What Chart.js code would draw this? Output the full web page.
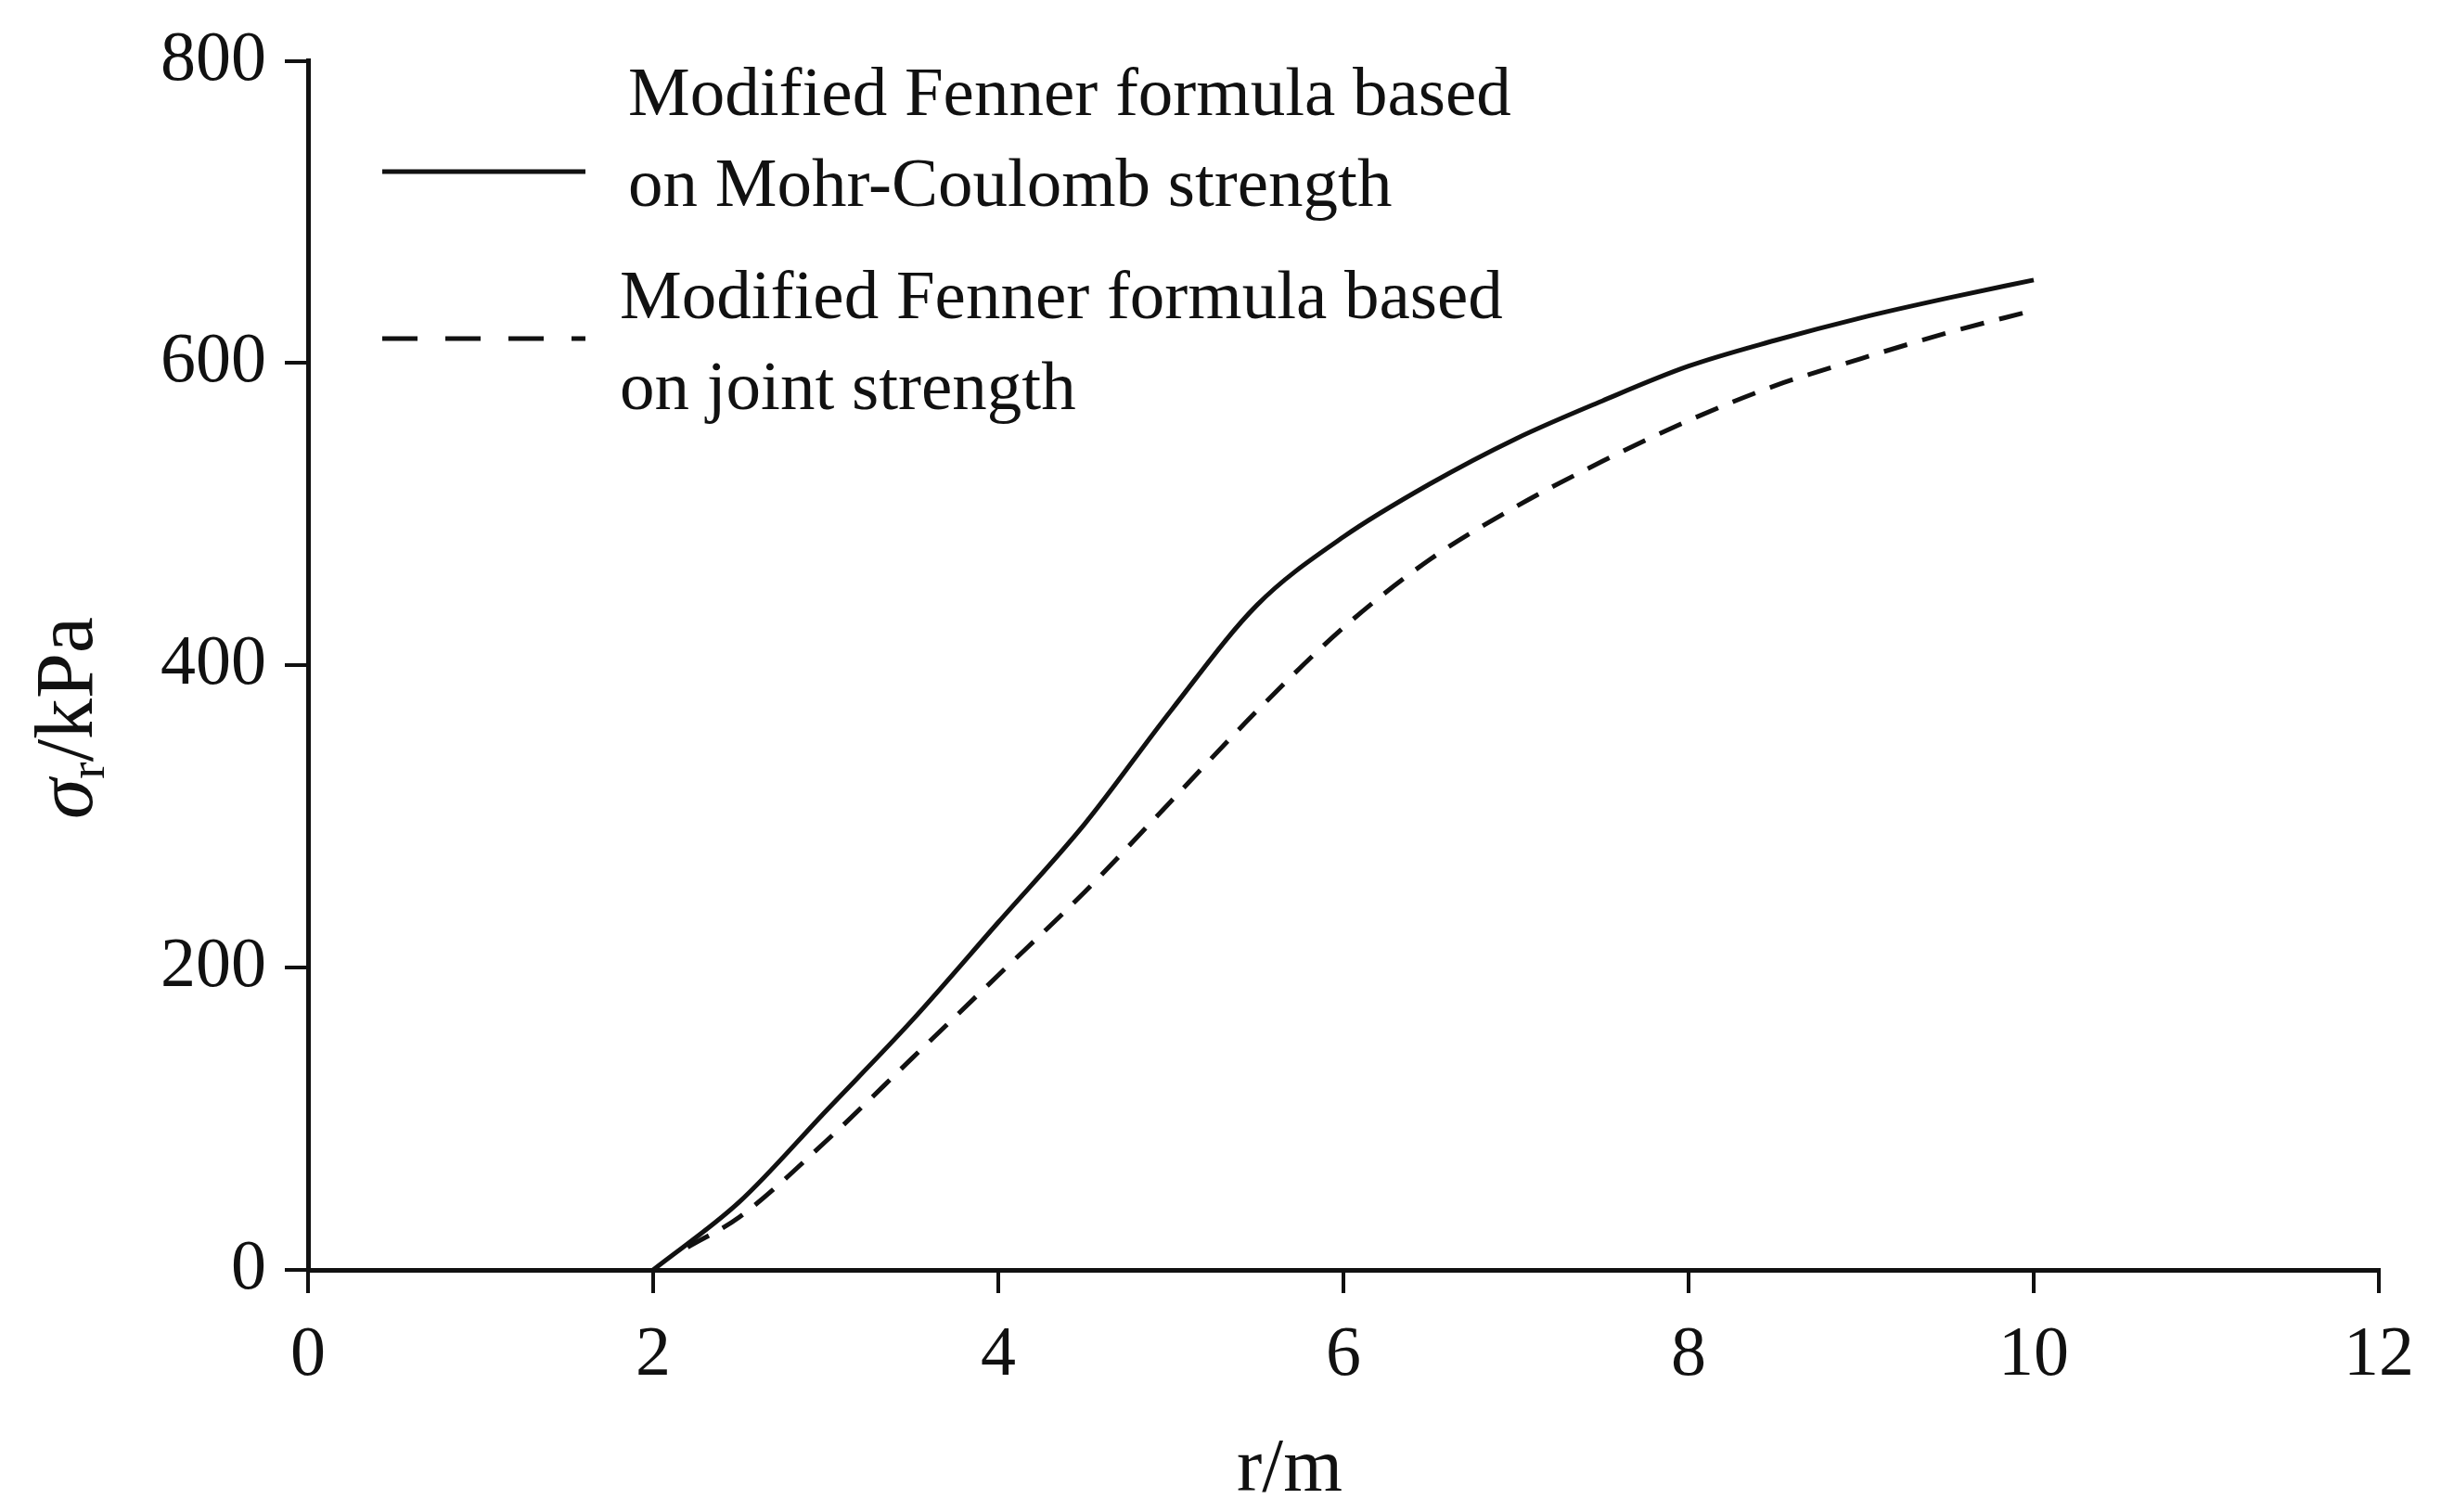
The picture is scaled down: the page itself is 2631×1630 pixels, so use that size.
<!DOCTYPE html>
<html><head><meta charset="utf-8">
<script src="https://cdn.jsdelivr.net/npm/chart.js@4"></script>
<style>html,body{margin:0;padding:0;background:#fff}</style>
</head><body>
<canvas id="c" width="2631" height="1630" style="width:2631px;height:1630px"></canvas>
<script>
const xTicks=[0,2,4,6,8,10,12];
const yTicks=[0,200,400,600,800];
const mcX=[2,2.5,3,3.5,4,4.5,5,5.5,6,6.5,7,7.5,8,8.5,9,9.5,10];
const mcY=[0,45,105,165,230,295,370,440,485,520,550,575,598,615,630,643,655];
const jX=[2.2,2.5,3,3.5,4,4.5,5,5.5,6,6.5,7,7.5,8,8.5,9,9.5,10];
const jY=[15,35,85,140,195,250,310,370,425,470,505,535,562,585,603,620,635];
const legend1=["Modified Fenner formula based","on Mohr-Coulomb strength"];
const legend2=["Modified Fenner formula based","on joint strength"];
const F='"Liberation Serif", "Times New Roman", serif';
const pts=(xs,ys)=>xs.map((x,i)=>({x,y:ys[i]}));
const deco={id:'deco',afterDraw(ch){
  const c=ch.ctx;c.save();c.fillStyle='#111';c.strokeStyle='#111';
  c.font='75px '+F;c.textBaseline='middle';c.textAlign='left';
  c.lineWidth=5;
  c.beginPath();c.moveTo(412,185);c.lineTo(631,185);c.stroke();
  c.fillText(legend1[0],677,104);c.fillText(legend1[1],677,202);
  c.setLineDash([38,30]);c.beginPath();c.moveTo(412,365);c.lineTo(631,365);c.stroke();c.setLineDash([]);
  c.fillText(legend2[0],668,323);c.fillText(legend2[1],668,421);
  c.textAlign='center';c.font='82px '+F;c.fillText('r/m',1390,1585);
  c.translate(76,774);c.rotate(-Math.PI/2);
  c.textAlign='left';
  const S=88;
  c.font='italic '+S+'px '+F;const w1=c.measureText('σ').width;
  c.font=S+'px '+F;const w2=c.measureText('/kPa').width;
  c.font=Math.round(S*0.62)+'px '+F;const w3=c.measureText('r').width;
  let x=-(w1+w2+w3)/2;
  c.font='italic '+S+'px '+F;c.fillText('σ',x,0);x+=w1;
  c.font=Math.round(S*0.62)+'px '+F;c.fillText('r',x,22);x+=w3;
  c.font=S+'px '+F;c.fillText('/kPa',x,0);
  c.restore();}};
new Chart(document.getElementById('c'),{type:'scatter',
 data:{datasets:[
  {data:pts(mcX,mcY),showLine:true,borderColor:'#111',borderWidth:5,pointRadius:0,cubicInterpolationMode:'monotone',fill:false},
  {data:pts(jX,jY),showLine:true,borderColor:'#111',borderWidth:5,borderDash:[26,17],pointRadius:0,cubicInterpolationMode:'monotone',fill:false}]},
 options:{responsive:false,animation:false,devicePixelRatio:1,
  layout:{padding:{top:59,right:67,left:0,bottom:0}},
  plugins:{legend:{display:false},tooltip:{enabled:false}},
  scales:{
   x:{type:'linear',min:0,max:12,afterFit(s){s.height=261;},
    afterBuildTicks(s){s.ticks=xTicks.map(v=>({value:v}));},
    grid:{display:true,drawOnChartArea:false,drawTicks:true,tickLength:25,color:'#111',lineWidth:4},
    border:{color:'#111',width:5},
    ticks:{color:'#111',font:{family:F,size:76},padding:22}},
   y:{type:'linear',min:0,max:800,afterFit(s){s.width=332;},
    afterBuildTicks(s){s.ticks=yTicks.map(v=>({value:v}));},
    grid:{display:true,drawOnChartArea:false,drawTicks:true,tickLength:25,color:'#111',lineWidth:4},
    border:{color:'#111',width:5},
    ticks:{color:'#111',font:{family:F,size:76},padding:20}}}},
 plugins:[deco]});
</script></body></html>
